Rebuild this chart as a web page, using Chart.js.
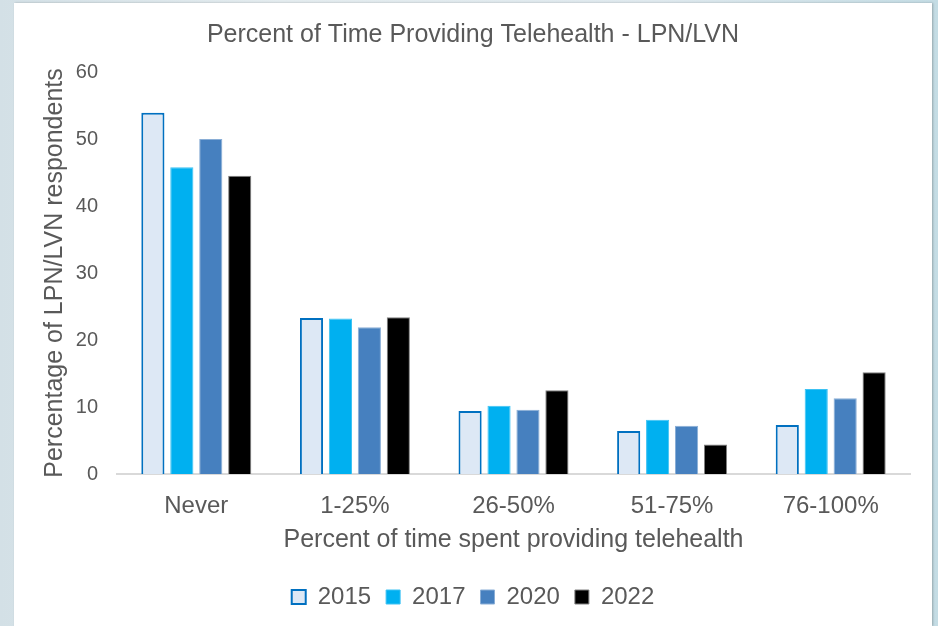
<!DOCTYPE html>
<html>
<head>
<meta charset="utf-8">
<script src="https://cdn.jsdelivr.net/npm/chart.js@4.4.1/dist/chart.umd.min.js"></script>
<style>
  html, body { margin: 0; padding: 0; }
  body {
    width: 938px; height: 626px; overflow: hidden; position: relative;
    background: linear-gradient(90deg, #d3e0e6 0%, #e4ecef 30%, #dfe9ee 70%, #c4dce4 100%);
  }
  #panel {
    position: absolute; left: 14px; top: 3px; width: 918px; height: 623px;
    background: #ffffff; box-shadow: 1px 0 2px rgba(0,0,0,0.25);
  }
  #c { display: block; }
</style>
</head>
<body>
<div id="panel"><canvas id="c" width="918" height="623"></canvas></div>
<script>
const categories = ["Never", "1-25%", "26-50%", "51-75%", "76-100%"];
const seriesLabels = ["2015", "2017", "2020", "2022"];
const values2015 = [53.9, 23.3, 9.4, 6.4, 7.3];
const values2017 = [45.8, 23.2, 10.2, 8.1, 12.7];
const values2020 = [50.0, 21.9, 9.6, 7.2, 11.3];
const values2022 = [44.5, 23.4, 12.5, 4.4, 15.2];
const yTicks = [0, 10, 20, 30, 40, 50, 60];

const textColor = "#595959";
const fontFamily = "'Liberation Sans', Arial, sans-serif";

new Chart(document.getElementById("c"), {
  type: "bar",
  data: {
    labels: categories,
    datasets: [
      { label: seriesLabels[0], data: values2015, backgroundColor: "#dde8f5", borderColor: "#0070c0", borderWidth: 2 },
      { label: seriesLabels[1], data: values2017, backgroundColor: "#00b0f0", borderColor: "#3cc2f3", borderWidth: 1 },
      { label: seriesLabels[2], data: values2020, backgroundColor: "#4680bf", borderColor: "#8aaed6", borderWidth: 1 },
      { label: seriesLabels[3], data: values2022, backgroundColor: "#000000", borderColor: "#808080", borderWidth: 1 }
    ]
  },
  options: {
    responsive: false,
    animation: false,
    categoryPercentage: 0.73,
    barPercentage: 0.80,
    layout: { padding: { left: 0, right: 0, top: 0, bottom: 7 } },
    plugins: {
      title: {
        display: true,
        text: "Percent of Time Providing Telehealth - LPN/LVN",
        color: textColor,
        font: { family: fontFamily, size: 25, weight: "normal" },
        padding: { top: 17, bottom: 22 }
      },
      legend: {
        display: true,
        position: "bottom",
        labels: {
          color: textColor,
          font: { family: fontFamily, size: 24 },
          boxWidth: 14,
          boxHeight: 14,
          padding: 15
        }
      },
      tooltip: { enabled: false }
    },
    scales: {
      x: {
        afterFit: (scale) => { scale.height = 96; },
        grid: { display: false, drawTicks: false },
        border: { display: true, color: "#d9d9d9", width: 2 },
        ticks: { color: textColor, font: { family: fontFamily, size: 24 }, padding: 18 },
        title: {
          display: true,
          text: "Percent of time spent providing telehealth",
          color: textColor,
          font: { family: fontFamily, size: 25 },
          padding: { top: 5, bottom: 15 }
        }
      },
      y: {
        min: 0,
        max: 60,
        afterBuildTicks: (scale) => { scale.ticks = yTicks.map(v => ({ value: v })); },
        afterFit: (scale) => { scale.width = 103; },
        grid: { display: false, drawTicks: false },
        border: { display: false },
        ticks: { color: textColor, font: { family: fontFamily, size: 20 }, padding: 19 },
        title: {
          display: true,
          text: "Percentage of LPN/LVN respondents",
          color: textColor,
          font: { family: fontFamily, size: 25 },
          padding: { top: 26, bottom: 0 }
        }
      },
      yRight: {
        type: "linear",
        position: "right",
        display: true,
        afterFit: (scale) => { scale.width = 22; },
        grid: { display: false, drawTicks: false },
        border: { display: false },
        ticks: { display: false }
      }
    }
  }
});
</script>
</body>
</html>
